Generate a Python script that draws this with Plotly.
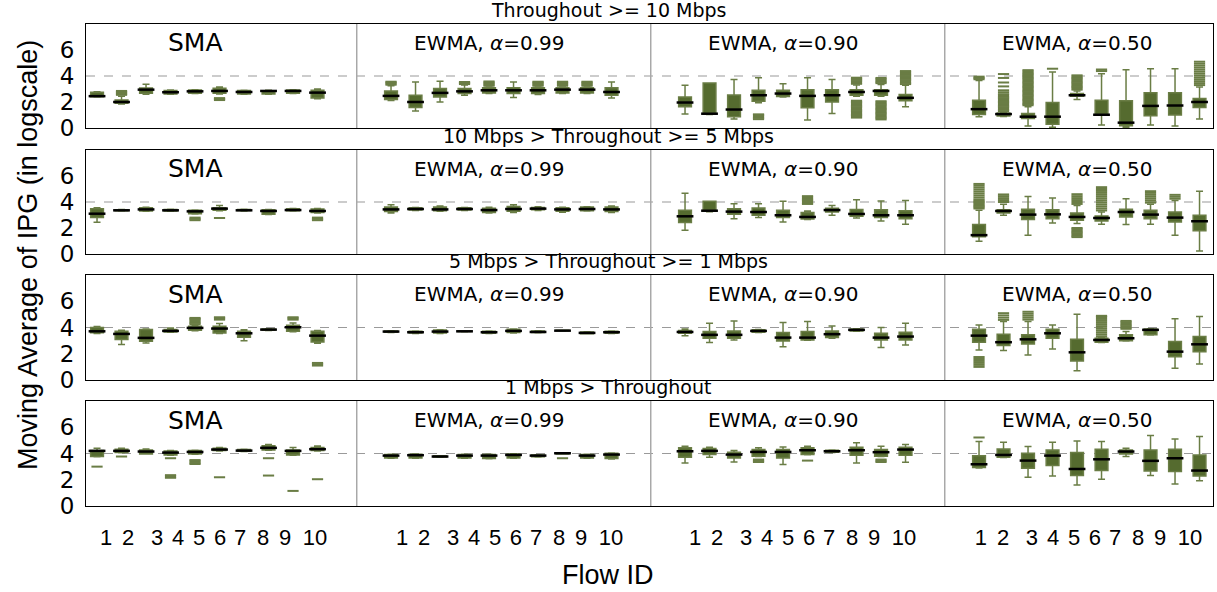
import plotly.graph_objects as go

# ---------------- data (log-scale moving average of IPG) ----------------
GROUPS = ["SMA", "EWMA, <i>α</i>=0.99", "EWMA, <i>α</i>=0.90", "EWMA, <i>α</i>=0.50"]
ROW_TITLES = ["Throughout >= 10 Mbps", "10 Mbps > Throughout >= 5 Mbps",
              "5 Mbps > Throughout >= 1 Mbps", "1 Mbps > Throughout"]
FLOW_LABELS = ["1", "2", "3", "4", "5", "6", "7", "8", "9", "10"]
Y_TICKS = [0, 2, 4, 6]
REF_LEVEL = 4

# Row 1 : Throughout >= 10 Mbps   (SMA | 0.99 | 0.90 | 0.50)
R1_LF = [2.38, 1.85, 2.60, 2.60, 2.65, 2.62, 2.60, 2.60, 2.65, 2.25,
         2.12, 1.30, 2.00, 2.52, 2.65, 2.34, 2.57, 2.65, 2.65, 2.30,
         1.07, 1.04, 0.69, 1.95, 2.39, 0.61, 1.12, 2.45, 2.45, 1.63,
         0.87, 0.88, 0.15, 0.05, 2.20, 0.23, 0.05, 0.23, 0.15, 0.69]
R1_Q1 = [2.40, 1.90, 2.68, 2.62, 2.68, 2.68, 2.62, 2.62, 2.68, 2.30,
         2.20, 1.58, 2.39, 2.65, 2.70, 2.65, 2.65, 2.70, 2.70, 2.52,
         1.63, 1.05, 0.87, 2.06, 2.42, 1.55, 2.00, 2.52, 2.52, 2.09,
         1.04, 0.92, 0.74, 0.28, 2.45, 0.98, 0.18, 0.94, 1.00, 1.58]
R1_MED = [2.45, 2.00, 2.95, 2.75, 2.82, 2.85, 2.77, 2.85, 2.85, 2.72,
          2.47, 2.00, 2.70, 2.82, 2.90, 2.90, 2.90, 2.95, 2.95, 2.77,
          1.96, 1.10, 1.42, 2.52, 2.65, 2.47, 2.52, 2.77, 2.85, 2.32,
          1.45, 1.07, 0.87, 0.87, 2.52, 1.02, 0.41, 1.70, 1.73, 2.00]
R1_Q3 = [2.75, 2.15, 3.08, 2.88, 2.92, 3.05, 2.88, 2.87, 2.92, 2.90,
         2.85, 2.52, 3.03, 3.03, 3.10, 3.10, 3.10, 3.10, 3.10, 3.10,
         2.39, 3.46, 2.54, 2.90, 2.90, 2.95, 2.95, 2.95, 2.95, 2.57,
         2.14, 1.15, 1.12, 1.96, 2.65, 2.14, 2.09, 2.72, 2.72, 2.26]
R1_UF = [2.78, 2.45, 3.36, 2.92, 2.95, 3.15, 2.90, 2.90, 2.95, 3.00,
         3.25, 3.54, 3.59, 3.30, 3.15, 3.54, 3.15, 3.15, 3.15, 3.54,
         3.28, 3.46, 3.74, 3.87, 3.41, 3.87, 3.74, 3.30, 3.35, 3.28,
         3.66, 1.22, 1.63, 4.30, 2.85, 4.17, 4.48, 4.56, 4.56, 3.15]
R1_OUT = [
    [], [2.55, 2.62, 2.70, 2.78, 2.85], [], [], [], [2.15, 2.22, 2.30], [], [], [], [],
    [3.33, 3.42, 3.50, 3.56], [], [], [3.38, 3.46, 3.54], [3.25, 3.33, 3.42, 3.50, 3.58], [],
    [3.25, 3.33, 3.42, 3.50, 3.56], [3.25, 3.33, 3.42, 3.50, 3.56], [3.25, 3.33, 3.42, 3.50, 3.56], [],
    [], [], [], [0.68, 0.78, 0.88, 0.98, 1.05], [], [], [],
    [0.80, 0.90, 1.00, 1.10, 1.20, 1.30, 1.40, 1.50, 1.60, 1.70, 1.80, 1.90, 2.00, 2.10,
     3.40, 3.50, 3.60, 3.70, 3.80, 3.87],
    [0.66, 0.76, 0.86, 0.96, 1.06, 1.16, 1.26, 1.36, 1.46, 1.56, 1.66, 1.76, 1.86, 1.96, 2.06,
     3.45, 3.55, 3.65, 3.75, 3.85],
    [3.38, 3.48, 3.58, 3.68, 3.78, 3.88, 3.98, 4.08, 4.18, 4.28, 4.38],
    [3.75, 3.85, 3.95],
    [1.30, 1.40, 1.50, 1.60, 1.70, 1.80, 1.90, 2.00, 2.10, 2.20, 2.30, 2.40, 2.50, 2.60,
     2.75, 2.90, 3.20, 3.50, 3.85, 4.15],
    [1.75, 1.85, 1.95, 2.05, 2.15, 2.25, 2.35, 2.45, 2.55, 2.65, 2.75, 2.85, 2.95, 3.05,
     3.15, 3.25, 3.35, 3.45, 3.55, 3.65, 3.75, 3.85, 3.95, 4.05, 4.15, 4.25, 4.35, 4.45],
    [4.56],
    [2.95, 3.05, 3.15, 3.25, 3.35, 3.45, 3.55, 3.65, 3.75, 3.85, 3.95, 4.05],
    [4.38, 4.50], [], [], [],
    [3.30, 3.45, 3.60, 3.75, 3.90, 4.05, 4.20, 4.35, 4.50, 4.65, 4.80, 4.95, 5.10],
]

# Row 2 : 10 Mbps > Throughout >= 5 Mbps
R2_LF = [2.44, 3.30, 3.28, 3.28, 3.08, 3.33, 3.30, 3.03, 3.30, 3.15,
         3.16, 3.35, 3.28, 3.35, 3.16, 3.20, 3.35, 3.22, 3.30, 3.20,
         1.83, 3.25, 2.72, 2.80, 2.47, 2.65, 2.98, 2.77, 2.54, 2.29,
         0.99, 2.98, 1.45, 2.39, 2.34, 2.29, 2.26, 2.29, 1.45, 0.23]
R2_Q1 = [2.80, 3.32, 3.31, 3.30, 3.10, 3.36, 3.34, 3.05, 3.33, 3.20,
         3.26, 3.38, 3.33, 3.38, 3.20, 3.28, 3.40, 3.28, 3.33, 3.26,
         2.42, 3.28, 3.05, 2.98, 2.80, 2.70, 3.23, 2.90, 2.80, 2.72,
         1.32, 3.16, 2.65, 2.72, 2.60, 2.54, 2.85, 2.72, 2.47, 1.78]
R2_MED = [3.10, 3.36, 3.43, 3.36, 3.28, 3.49, 3.36, 3.31, 3.38, 3.31,
          3.43, 3.46, 3.43, 3.46, 3.38, 3.46, 3.49, 3.43, 3.46, 3.43,
          2.90, 3.33, 3.26, 3.23, 2.98, 2.85, 3.38, 3.08, 2.98, 2.98,
          1.45, 3.31, 3.03, 3.05, 2.85, 2.77, 3.23, 3.03, 2.80, 2.52]
R2_Q3 = [3.49, 3.40, 3.56, 3.43, 3.36, 3.56, 3.43, 3.41, 3.48, 3.46,
         3.61, 3.56, 3.61, 3.56, 3.51, 3.66, 3.58, 3.56, 3.61, 3.61,
         3.36, 4.05, 3.49, 3.54, 3.36, 3.20, 3.51, 3.43, 3.41, 3.33,
         2.26, 3.41, 3.44, 3.41, 3.16, 2.93, 3.44, 3.36, 3.23, 2.98]
R2_UF = [3.56, 3.42, 3.60, 3.45, 3.38, 3.74, 3.45, 3.43, 3.50, 3.50,
         3.79, 3.58, 3.69, 3.58, 3.59, 3.79, 3.64, 3.60, 3.64, 3.69,
         4.68, 4.05, 3.87, 3.87, 4.05, 3.30, 3.74, 4.17, 4.07, 4.12,
         3.36, 3.82, 4.43, 4.30, 3.74, 3.23, 4.25, 3.82, 4.12, 4.83]
R2_OUT = [
    [], [], [], [], [2.60, 2.70, 2.80], [2.77], [], [], [], [2.60, 2.70, 2.80],
    [], [], [], [], [], [], [], [], [], [],
    [], [], [], [], [], [3.85, 3.95, 4.05, 4.15, 4.25, 4.35, 4.45], [], [], [], [],
    [3.50, 3.60, 3.70, 3.80, 3.90, 4.00, 4.10, 4.20, 4.35, 4.50, 4.65, 4.80, 4.95, 5.10, 5.25, 5.39],
    [4.00, 4.15, 4.30, 4.45, 4.58], [], [],
    [1.30, 1.40, 1.50, 1.60, 1.70, 1.80, 1.90, 2.00, 3.85, 4.00, 4.15, 4.30, 4.45, 4.60],
    [3.35, 3.50, 3.65, 3.80, 3.95, 4.10, 4.25, 4.40, 4.55, 4.70, 4.85, 5.00, 5.14],
    [], [3.95, 4.10, 4.25, 4.40, 4.55, 4.70, 4.83], [4.25, 4.40, 4.55], [],
]

# Row 3 : 5 Mbps > Throughout >= 1 Mbps
R3_LF = [3.55, 2.70, 2.82, 3.63, 3.75, 3.55, 3.00, 3.78, 3.68, 2.80,
         3.62, 3.55, 3.55, 3.68, 3.54, 3.58, 3.60, 3.74, 3.52, 3.54,
         3.38, 2.85, 3.05, 3.62, 2.54, 3.03, 3.18, 3.72, 2.47, 2.67,
         2.29, 2.24, 1.91, 2.37, 0.71, 2.85, 2.98, 3.42, 0.89, 1.22]
R3_Q1 = [3.60, 3.08, 2.95, 3.66, 3.79, 3.59, 3.26, 3.80, 3.71, 2.90,
         3.64, 3.58, 3.58, 3.69, 3.56, 3.61, 3.61, 3.76, 3.53, 3.56,
         3.56, 3.18, 3.18, 3.64, 2.98, 3.05, 3.23, 3.74, 3.05, 3.05,
         2.88, 2.62, 2.75, 3.18, 1.45, 2.88, 3.00, 3.44, 1.78, 2.16]
R3_MED = [3.71, 3.51, 3.21, 3.74, 3.97, 3.92, 3.56, 3.84, 4.02, 3.38,
          3.69, 3.64, 3.69, 3.71, 3.64, 3.74, 3.66, 3.76, 3.59, 3.64,
          3.66, 3.44, 3.44, 3.74, 3.23, 3.23, 3.49, 3.82, 3.23, 3.31,
          3.38, 2.88, 3.10, 3.56, 2.11, 3.05, 3.18, 3.82, 2.16, 2.72]
R3_Q3 = [4.00, 3.71, 3.84, 3.84, 4.10, 4.10, 3.71, 3.88, 4.17, 3.71,
         3.74, 3.71, 3.81, 3.73, 3.71, 3.86, 3.74, 3.79, 3.66, 3.71,
         3.77, 3.69, 3.74, 3.82, 3.61, 3.69, 3.74, 3.89, 3.56, 3.64,
         3.87, 3.49, 3.44, 3.87, 3.10, 3.18, 3.44, 3.89, 2.93, 3.31]
R3_UF = [4.07, 3.79, 3.89, 3.97, 4.15, 4.30, 3.82, 3.90, 4.35, 3.78,
         3.76, 3.73, 3.83, 3.74, 3.73, 3.88, 3.76, 3.80, 3.68, 3.73,
         3.89, 4.33, 4.50, 3.84, 4.38, 4.45, 4.12, 3.90, 4.00, 4.33,
         4.20, 4.45, 4.45, 4.20, 5.01, 3.22, 3.70, 3.91, 4.66, 4.83]
R3_OUT = [
    [], [], [], [], [4.25, 4.35, 4.45, 4.55, 4.65, 4.73], [4.60, 4.70, 4.78], [], [],
    [4.60, 4.70, 4.78], [1.10, 1.20, 1.30],
    [], [], [], [], [], [], [], [], [], [],
    [], [], [], [], [], [], [], [], [], [],
    [1.00, 1.15, 1.30, 1.45, 1.60, 1.75], [4.58, 4.75, 4.92, 5.09], [4.60, 4.75, 4.90, 5.05, 5.20],
    [], [],
    [3.30, 3.45, 3.60, 3.75, 3.90, 4.05, 4.20, 4.35, 4.50, 4.65, 4.80, 4.89],
    [3.90, 4.00, 4.10, 4.20, 4.30, 4.40, 4.50], [], [], [],
]

# Row 4 : 1 Mbps > Throughout
R4_LF = [3.75, 4.05, 3.97, 3.87, 3.95, 4.20, 4.15, 4.25, 3.87, 4.20,
         3.64, 3.64, 3.72, 3.64, 3.60, 3.64, 3.74, 3.96, 3.64, 3.59,
         3.28, 3.71, 3.36, 3.77, 3.16, 3.90, 4.08, 3.28, 3.77, 3.33,
         2.90, 3.70, 2.19, 2.29, 1.60, 2.04, 3.77, 2.32, 1.68, 1.93]
R4_Q1 = [3.77, 4.07, 3.97, 3.89, 3.97, 4.22, 4.17, 4.27, 3.89, 4.22,
         3.66, 3.66, 3.74, 3.66, 3.61, 3.66, 3.76, 3.97, 3.66, 3.61,
         3.71, 3.92, 3.66, 3.79, 3.66, 3.92, 4.10, 3.87, 3.79, 3.87,
         2.93, 3.71, 2.88, 3.08, 2.32, 2.70, 3.97, 2.67, 2.62, 2.29]
R4_MED = [4.20, 4.20, 4.15, 4.07, 4.12, 4.30, 4.22, 4.43, 4.20, 4.33,
          3.84, 3.87, 3.77, 3.84, 3.84, 3.89, 3.84, 4.02, 3.84, 3.92,
          4.17, 4.20, 3.92, 4.12, 4.12, 4.25, 4.17, 4.25, 4.10, 4.30,
          3.18, 3.89, 3.46, 3.84, 2.82, 3.56, 4.15, 3.44, 3.64, 2.70]
R4_Q3 = [4.22, 4.33, 4.27, 4.20, 4.22, 4.40, 4.30, 4.60, 4.27, 4.45,
         3.92, 3.94, 3.82, 3.92, 3.92, 3.97, 3.89, 4.04, 3.92, 4.02,
         4.43, 4.38, 4.10, 4.30, 4.30, 4.43, 4.25, 4.48, 4.30, 4.48,
         3.82, 4.35, 4.02, 4.27, 4.07, 4.33, 4.27, 4.27, 4.33, 3.89]
R4_UF = [4.40, 4.40, 4.35, 4.22, 4.25, 4.45, 4.32, 4.68, 4.45, 4.58,
         3.94, 3.96, 3.83, 3.94, 3.94, 3.99, 3.90, 4.05, 3.94, 4.04,
         4.55, 4.48, 4.22, 4.43, 4.50, 4.55, 4.27, 4.81, 4.55, 4.68,
         4.91, 4.86, 4.53, 4.86, 4.96, 4.91, 4.40, 5.37, 5.11, 5.29]
R4_OUT = [
    [3.00], [3.77], [], [3.64, 2.15, 2.25, 2.35], [3.20, 3.30, 3.40, 3.50], [2.19], [],
    [3.64, 2.32], [1.15], [2.04],
    [], [], [], [], [], [], [], [3.64], [], [],
    [], [], [], [3.35, 3.45, 3.54], [], [3.46], [], [], [3.35, 3.45, 3.54], [],
    [5.22], [], [], [], [], [], [], [], [], [],
]

ROWS = [
    (R1_LF, R1_Q1, R1_MED, R1_Q3, R1_UF, R1_OUT),
    (R2_LF, R2_Q1, R2_MED, R2_Q3, R2_UF, R2_OUT),
    (R3_LF, R3_Q1, R3_MED, R3_Q3, R3_UF, R3_OUT),
    (R4_LF, R4_Q1, R4_MED, R4_Q3, R4_UF, R4_OUT),
]

# ---------------- styling / layout ----------------
W, H = 1217, 592
ML, MR, MT, MB = 86, 4, 24, 86
PH = H - MT - MB
PW = W - ML - MR
ROW_PX = [(24, 128), (150, 254), (275, 380), (401, 506)]   # page pixels
OLIVE = "#556B2F"
EDGE = "#6a7d45"
GROUP_STEP = 12
XR = [-0.45, 45.55]
LABEL_FONT = "DejaVu Sans"
ARIAL = "Liberation Sans, Arial, sans-serif"


def px_y(page_y):
    """page pixel row -> paper fraction"""
    return (H - MB - page_y) / PH


def px_x(page_x):
    return (page_x - ML) / PW


positions = [GROUP_STEP * g + i for g in range(4) for i in range(10)]

fig = go.Figure()
shapes, annotations = [], []
layout_axes = {}

for r, (lf, q1, med, q3, uf, outs) in enumerate(ROWS):
    xa = "x" if r == 0 else f"x{r + 1}"
    ya = "y" if r == 0 else f"y{r + 1}"
    top, bot = ROW_PX[r]
    dom = [px_y(bot), px_y(top)]

    fig.add_trace(go.Box(
        x=positions, q1=q1, median=med, q3=q3, lowerfence=lf, upperfence=uf,
        xaxis=xa, yaxis=ya, width=0.52, whiskerwidth=0.55,
        fillcolor=OLIVE, line=dict(color=EDGE, width=1.5),
        boxpoints=False, showlegend=False, hoverinfo="skip"))

    ox, oy = [], []
    for p, vals in zip(positions, outs):
        for v in vals:
            ox.append(p)
            oy.append(v)
    fig.add_trace(go.Scatter(
        x=ox, y=oy, mode="markers", xaxis=xa, yaxis=ya, showlegend=False,
        hoverinfo="skip",
        marker=dict(symbol="line-ew", size=8, line=dict(width=2, color=EDGE))))

    fig.add_trace(go.Scatter(
        x=positions, y=med, mode="markers", xaxis=xa, yaxis=ya, showlegend=False,
        hoverinfo="skip",
        marker=dict(symbol="line-ew", size=12, line=dict(width=2.5, color="black"))))

    xkey = "xaxis" if r == 0 else f"xaxis{r + 1}"
    ykey = "yaxis" if r == 0 else f"yaxis{r + 1}"
    xax = dict(domain=[0, 1], range=XR, anchor=ya, showline=True, mirror=True,
               linecolor="black", linewidth=1, showgrid=False, zeroline=False,
               showticklabels=False, ticks="")
    if r == 3:
        start_off = [0.37, 0.45, 0.41, 0.08]
        rel = [0, 0.9, 2.08, 2.94, 3.8, 4.65, 5.47, 6.41, 7.31, 8.53]
        xax.update(showticklabels=True,
                   tickvals=[GROUP_STEP * g + start_off[g] + d for g in range(4) for d in rel],
                   ticktext=FLOW_LABELS * 4, ticks="outside", ticklen=12,
                   tickcolor="rgba(0,0,0,0)", tickfont=dict(family=ARIAL, size=22, color="black"))
    layout_axes[xkey] = xax
    layout_axes[ykey] = dict(domain=dom, range=[0, 8], anchor=xa, tickvals=Y_TICKS,
                             ticks="outside", ticklen=6, tickcolor="rgba(0,0,0,0)",
                             showline=True, mirror=True, linecolor="black", linewidth=1,
                             showgrid=False, zeroline=False,
                             tickfont=dict(family=LABEL_FONT, size=23, color="black"))

    shapes.append(dict(type="line", xref=f"{xa} domain", x0=0, x1=1, yref=ya,
                       y0=REF_LEVEL, y1=REF_LEVEL, layer="below",
                       line=dict(color="#9a9a9a", width=1.2, dash="dash")))
    for g in range(1, 4):
        shapes.append(dict(type="line", xref=xa, x0=GROUP_STEP * g - 1.4, x1=GROUP_STEP * g - 1.4,
                           yref=f"{ya} domain", y0=0, y1=1, layer="below",
                           line=dict(color="#a8a8a8", width=1.5)))
    for g, name in enumerate(GROUPS):
        annotations.append(dict(text=name, xref=xa, yref=ya, x=GROUP_STEP * g + 4, y=6.55,
                                showarrow=False, xanchor="center", yanchor="middle",
                                font=dict(family=LABEL_FONT, size=25 if g == 0 else 20,
                                          color="black")))
    annotations.append(dict(text=ROW_TITLES[r], xref="paper", yref="paper",
                            x=px_x(608), y=px_y(top - 14),
                            showarrow=False, xanchor="center", yanchor="middle",
                            font=dict(family=LABEL_FONT, size=19, color="black")))

annotations.append(dict(text="Moving Average of IPG (in logscale)", xref="paper", yref="paper",
                        x=px_x(28), y=px_y(255), textangle=-90,
                        showarrow=False, xanchor="center", yanchor="middle",
                        font=dict(family=ARIAL, size=27, color="black")))
annotations.append(dict(text="Flow ID", xref="paper", yref="paper",
                        x=px_x(608), y=px_y(575),
                        showarrow=False, xanchor="center", yanchor="middle",
                        font=dict(family=ARIAL, size=27, color="black")))

fig.update_layout(width=W, height=H, margin=dict(l=ML, r=MR, t=MT, b=MB),
                  paper_bgcolor="white", plot_bgcolor="white", boxmode="overlay",
                  shapes=shapes, annotations=annotations, showlegend=False, **layout_axes)

# remove the browser's default 8px body margin so the figure sits at the page origin
fig.write_html("out.html", config={"displayModeBar": False},
               post_script="document.body.style.margin='0';")
